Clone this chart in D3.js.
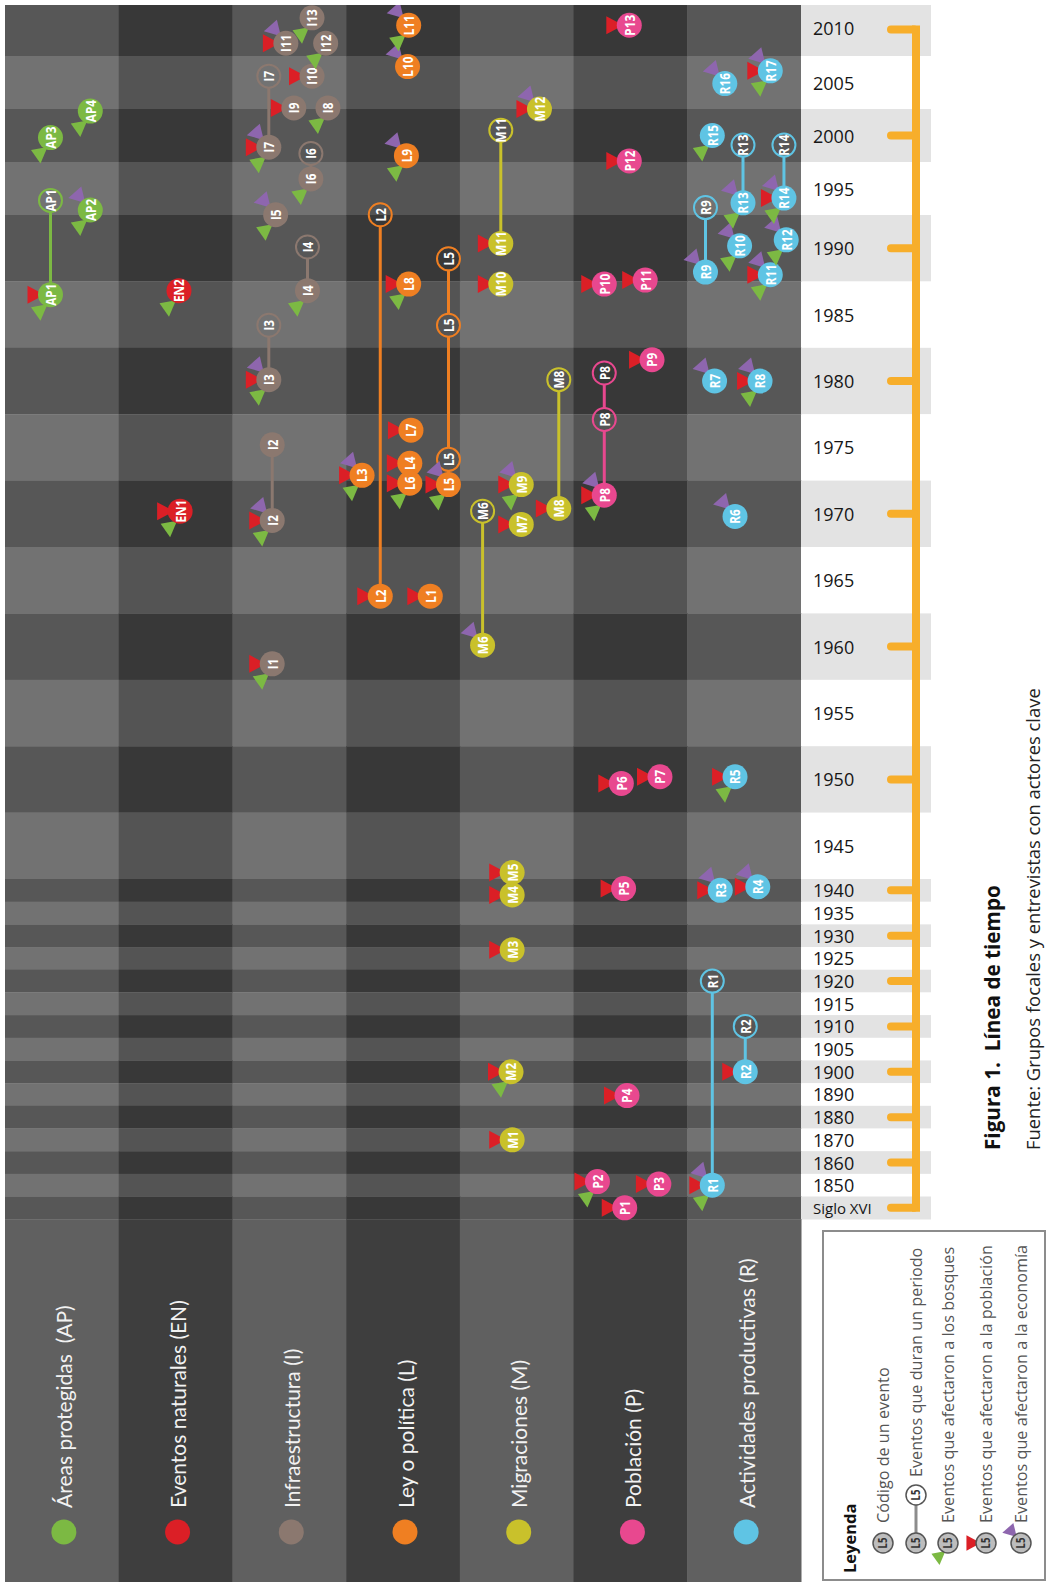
<!DOCTYPE html>
<html><head><meta charset="utf-8">
<script src="https://cdn.jsdelivr.net/npm/d3@7/dist/d3.min.js"></script>
<style>body{margin:0;background:#fff}svg{display:block}</style>
</head><body>
<svg id="c" width="1047" height="1582"></svg>
<script>
// ---------- DATA ----------
const categories = ["Áreas protegidas  (AP)", "Eventos naturales (EN)", "Infraestructura (I)", "Ley o política (L)", "Migraciones (M)", "Población (P)", "Actividades productivas (R)"];
const catCodes = ["AP", "EN", "I", "L", "M", "P", "R"];
const catColors = ["#7cb943", "#db1f26", "#8b786f", "#ef7f22", "#c9c12b", "#e8488f", "#5fc4e4"];

const bandLabels = ["2010","2005","2000","1995","1990","1985","1980","1975","1970","1965","1960","1955","1950","1945","1940","1935","1930","1925","1920","1915","1910","1905","1900","1890","1880","1870","1860","1850","Siglo XVI"];
const bandYears  = [2010,2005,2000,1995,1990,1985,1980,1975,1970,1965,1960,1955,1950,1945,1940,1935,1930,1925,1920,1915,1910,1905,1900,1890,1880,1870,1860,1850,1550];

// events: [code, year, lane (0..1 inside column), impacts: e = economía, p = población, f = bosques]
const eventsAP = [["AP1",1986.5,0.40,"pf"],["AP2",1993.2,0.75,"ef"],["AP3",1999.8,0.40,"f"],["AP4",2002.3,0.75,"f"]];
const eventsEN = [["EN1",1970.2,0.54,"pf"],["EN2",1986.8,0.53,"f"]];
const eventsI  = [["I1",1958.7,0.35,"pf"],["I2",1969.5,0.35,"epf"],["I2",1975.2,0.35,""],["I3",1980.1,0.32,"epf"],["I4",1986.8,0.66,"f"],["I5",1992.8,0.38,"ef"],["I6",1995.9,0.69,"f"],["I7",1998.9,0.32,"epf"],["I8",2002.6,0.84,"f"],["I9",2002.6,0.54,"p"],["I10",2005.6,0.70,"p"],["I12",2008.7,0.82,"f"],["I11",2008.7,0.47,"ep"],["I13",2011.1,0.70,"f"]];
const eventsL  = [["L1",1963.8,0.74,"p"],["L2",1963.8,0.30,"p"],["L7",1976.3,0.57,"p"],["L4",1973.8,0.56,"p"],["L6",1972.3,0.56,"pf"],["L3",1972.9,0.14,"epf"],["L5",1972.2,0.90,"epf"],["L8",1987.3,0.55,"pf"],["L9",1998.1,0.53,"ef"],["L10",2006.5,0.54,"e"],["L11",2010.4,0.55,"ef"]];
const eventsM  = [["M1",1870,0.46,"p"],["M2",1900,0.45,"pf"],["M3",1926.9,0.46,"p"],["M4",1939.0,0.46,"p"],["M5",1942.0,0.46,"p"],["M6",1960.1,0.20,"e"],["M7",1969.2,0.54,"p"],["M8",1970.4,0.87,"p"],["M9",1972.2,0.54,"epf"],["M10",1987.3,0.36,"p"],["M11",1990.4,0.36,"p"],["M12",2002.5,0.70,"ep"]];
const eventsP  = [["P1",1550,0.45,"p"],["P2",1851.6,0.21,"pf"],["P3",1850.5,0.75,"p"],["P4",1889.5,0.47,"p"],["P5",1940.2,0.44,"p"],["P6",1949.7,0.42,"p"],["P7",1950.2,0.76,"p"],["P8",1971.4,0.27,"epf"],["P9",1981.6,0.69,"p"],["P10",1987.3,0.27,"p"],["P11",1987.6,0.63,"p"],["P12",1997.6,0.49,"p"],["P13",2010.4,0.49,"p"]];
const eventsR  = [["R1",1850,0.22,"epf"],["R2",1900,0.51,"p"],["R3",1940,0.29,"ep"],["R4",1940.4,0.62,"ep"],["R5",1950.2,0.42,"pf"],["R6",1969.8,0.42,"e"],["R7",1980,0.24,"e"],["R8",1980,0.64,"epf"],["R9",1988.2,0.16,"e"],["R10",1990.2,0.46,"ef"],["R11",1988.0,0.73,"epf"],["R12",1990.7,0.87,"ef"],["R13",1993.8,0.49,"ef"],["R14",1994.2,0.85,"epf"],["R15",2000,0.22,"f"],["R16",2004.9,0.33,"e"],["R17",2006.1,0.73,"epf"]];
const eventSets = [eventsAP, eventsEN, eventsI, eventsL, eventsM, eventsP, eventsR];

// period lines: [code, category index, lane, years along the line]
const periodLines = [
  ["AP1",0,0.40,[1986.5,1994.0]],
  ["I2",2,0.35,[1969.5,1975.2]],
  ["I3",2,0.32,[1980.1,1984.2]],
  ["I4",2,0.66,[1986.8,1990.1]],
  ["I6",2,0.69,[1995.9,1998.3]],
  ["I7",2,0.32,[1998.9,2005.6]],
  ["L2",3,0.30,[1963.8,1992.8]],
  ["L5",3,0.90,[1972.2,1974.1,1984.2,1989.2]],
  ["M6",4,0.20,[1960.1,1970.2]],
  ["M8",4,0.87,[1970.4,1980.1]],
  ["M11",4,0.36,[1990.4,2000.5]],
  ["P8",5,0.27,[1971.4,1977.1,1980.6]],
  ["R1",6,0.22,[1850,1920]],
  ["R2",6,0.51,[1900,1910]],
  ["R9",6,0.16,[1988.2,1993.4]],
  ["R13",6,0.49,[1993.8,1999.1]],
  ["R14",6,0.85,[1994.2,1999.1]]
];
// open end markers: [code, category index, lane, year]
const openMarks = [
  ["AP1",0,0.40,1994.0],["I3",2,0.32,1984.2],["I4",2,0.66,1990.1],["I6",2,0.69,1998.3],["I7",2,0.32,2005.6],
  ["L2",3,0.30,1992.8],["L5",3,0.90,1974.1],["L5",3,0.90,1984.2],["L5",3,0.90,1989.2],
  ["M6",4,0.20,1970.2],["M8",4,0.87,1980.1],["M11",4,0.36,2000.5],
  ["P8",5,0.27,1977.1],["P8",5,0.27,1980.6],
  ["R1",6,0.22,1920],["R2",6,0.51,1910],["R9",6,0.16,1993.4],["R13",6,0.49,1999.1],["R14",6,0.85,1999.1]
];

const legendItems = ["Código de un evento","Eventos que duran un periodo","Eventos que afectaron a los bosques","Eventos que afectaron a la población","Eventos que afectaron a la economía"];
const legendImpacts = ["","","f","p","e"];
const captionTitle = "Figura 1.  Línea de tiempo";
const captionSource = "Fuente: Grupos focales y entrevistas con actores clave";

// ---------- LAYOUT ----------
const svg = d3.select("#c");
const impactColor = {f:"#7cb943", p:"#db1f26", e:"#8e66ae"};
const triPts = {
  f: [[-19.5,12.5],[-3,9.5],[-10,26]],
  p: [[-23,-9],[-23,9],[-6,0]],
  e: [[-22,-12],[-9,-23.5],[-5,-7]]
};
const R = 12.5;
const topY = 3;
const bandH = bandLabels.map((d,i) => i < 4 ? 53 : (i < 14 ? 66.4 : 22.68));
let acc = topY;
const bandTop = bandH.map(h => { const t = acc; acc += h; return t; });
const plotBottom = acc;
const centers = bandTop.map((t,i) => t + bandH[i]/2);

const y = d3.scaleLinear().domain(bandYears).range(centers);
const x = d3.scaleBand().domain(catCodes).range([5, 801]).padding(0);
const lane = d3.scaleLinear().domain([0,1]).range([0, x.bandwidth()]);
const cellColor = (ci, ri) => (ci % 2 === 0) ? (ri % 2 === 0 ? "#575757" : "#727272") : (ri % 2 === 0 ? "#383838" : "#545454");

// grid cells
const gCells = svg.append("g");
bandLabels.forEach((lab, ri) => {
  catCodes.forEach((c, ci) => {
    const y0 = Math.max(5, bandTop[ri]);
    gCells.append("rect").attr("x", x(c)).attr("y", y0)
      .attr("width", x.bandwidth() + 0.5).attr("height", bandTop[ri] + bandH[ri] - y0 + 0.3)
      .attr("fill", cellColor(ci, ri));
  });
  const y0 = Math.max(5, bandTop[ri]);
  gCells.append("rect").attr("x", 801).attr("y", y0).attr("width", 130)
    .attr("height", bandTop[ri] + bandH[ri] - y0 + 0.3)
    .attr("fill", ri % 2 === 0 ? "#e3e3e3" : "#ffffff");
});

// year labels
svg.append("g").selectAll("text").data(bandLabels).join("text")
  .attr("x", 813).attr("y", (d,i) => centers[i] - (i === 0 ? 2 : 0))
  .attr("dominant-baseline", "central")
  .attr("font-family", "'Open Sans', sans-serif")
  .attr("font-size", d => d === "Siglo XVI" ? 15 : 18)
  .attr("fill", "#161616")
  .text(d => d);

// orange timeline
const orange = "#f7ae2b";
const tickIdx = bandLabels.map((d,i) => i).filter(i => i % 2 === 0);
const tl = svg.append("g");
tl.append("line").attr("x1", 916).attr("x2", 916)
  .attr("y1", centers[0] - 4).attr("y2", centers[centers.length-1] + 4)
  .attr("stroke", orange).attr("stroke-width", 8);
tl.selectAll("line.t").data(tickIdx).join("line").attr("class","t")
  .attr("x1", 891).attr("x2", 914)
  .attr("y1", i => centers[i]).attr("y2", i => centers[i])
  .attr("stroke", orange).attr("stroke-width", 8).attr("stroke-linecap", "round");

// category label area
const gCat = svg.append("g");
catCodes.forEach((c, ci) => {
  gCat.append("rect").attr("x", x(c)).attr("y", plotBottom).attr("width", x.bandwidth() + 0.5)
    .attr("height", 1582 - plotBottom).attr("fill", ci % 2 === 0 ? "#606060" : "#3e3e3e");
  const cx = x(c) + x.bandwidth()/2 + 2;
  gCat.append("circle").attr("cx", cx).attr("cy", 1532).attr("r", 12.5).attr("fill", catColors[ci]);
  gCat.append("text").attr("transform", `translate(${cx},1508) rotate(-90)`)
    .attr("dominant-baseline", "central")
    .attr("font-family", "Lato, 'Open Sans', sans-serif").attr("font-size", 21)
    .attr("fill", "#f2f2f2").style("white-space", "pre")
    .text(categories[ci]);
});

// helpers
function triPath(k, s = 1) {
  return "M" + triPts[k].map(p => (p[0]*s) + "," + (p[1]*s)).join("L") + "Z";
}
function codeText(g, code, color, size) {
  g.append("text").attr("transform", "rotate(-90) scale(0.84,1)")
    .attr("text-anchor", "middle").attr("dominant-baseline", "central")
    .attr("font-family", "'Open Sans', sans-serif").attr("font-weight", 700)
    .attr("font-size", size).attr("fill", color).text(code);
}

// period lines
const gLines = svg.append("g");
periodLines.forEach(([code, ci, ln, yrs]) => {
  const cx = x(catCodes[ci]) + lane(ln);
  for (let k = 0; k < yrs.length - 1; k++) {
    const ya = y(yrs[k]), yb = y(yrs[k+1]);
    gLines.append("line").attr("x1", cx).attr("x2", cx)
      .attr("y1", ya - R + 1).attr("y2", yb + R - 1)
      .attr("stroke", catColors[ci]).attr("stroke-width", 3);
  }
});

// open markers
const gOpen = svg.append("g");
openMarks.forEach(([code, ci, ln, yr]) => {
  const g = gOpen.append("g").attr("transform", `translate(${x(catCodes[ci]) + lane(ln)},${y(yr)})`);
  g.append("circle").attr("r", R - 1).attr("fill", "none").attr("stroke", catColors[ci]).attr("stroke-width", 2);
  codeText(g, code, "#ffffff", 14);
});

// events
const gEv = svg.append("g");
eventSets.forEach((arr, ci) => {
  arr.forEach(([code, yr, ln, imp]) => {
    const g = gEv.append("g").attr("transform", `translate(${x(catCodes[ci]) + lane(ln)},${y(yr)})`);
    ["e","p","f"].forEach(k => {
      if (imp.includes(k)) g.append("path").attr("d", triPath(k)).attr("fill", impactColor[k]);
    });
    g.append("circle").attr("r", R).attr("fill", catColors[ci]);
    codeText(g, code, "#ffffff", 14);
  });
});

// white strip on top
svg.append("rect").attr("x", 0).attr("y", 0).attr("width", 1047).attr("height", 5).attr("fill", "#fff");

// legend
const gL = svg.append("g");
gL.append("rect").attr("x", 823).attr("y", 1231).attr("width", 222).attr("height", 349)
  .attr("fill", "#fff").attr("stroke", "#8c8c8c").attr("stroke-width", 2);
gL.append("text").attr("transform", "translate(849,1573) rotate(-90)")
  .attr("dominant-baseline", "central").attr("font-family", "'Open Sans', sans-serif")
  .attr("font-weight", 700).attr("font-size", 16.5).attr("fill", "#111").text("Leyenda");
const legX = [883, 916, 948, 986, 1021];
legendItems.forEach((txt, i) => {
  const lx = legX[i];
  if (i === 1) {
    gL.append("line").attr("x1", lx).attr("x2", lx).attr("y1", 1543 - 10).attr("y2", 1495 + 10)
      .attr("stroke", "#8c8c8c").attr("stroke-width", 3);
    const go = gL.append("g").attr("transform", `translate(${lx},1495)`);
    go.append("circle").attr("r", 10).attr("fill", "#fff").attr("stroke", "#555").attr("stroke-width", 1.5);
    codeText(go, "L5", "#333", 11.5);
  }
  const g = gL.append("g").attr("transform", `translate(${lx},1543)`);
  if (legendImpacts[i]) g.append("path").attr("d", triPath(legendImpacts[i], 0.85)).attr("fill", impactColor[legendImpacts[i]]);
  g.append("circle").attr("r", 10).attr("fill", "#bdbdbd").attr("stroke", "#555").attr("stroke-width", 1.5);
  codeText(g, "L5", "#333", 11.5);
  gL.append("text").attr("transform", `translate(${lx},${i === 1 ? 1477 : 1523}) rotate(-90)`)
    .attr("dominant-baseline", "central").attr("font-family", "'Open Sans', sans-serif")
    .attr("font-size", 16.2).attr("fill", "#555").text(txt);
});

// caption
svg.append("text").attr("transform", "translate(992,1150) rotate(-90)")
  .attr("dominant-baseline", "central").attr("font-family", "'Open Sans', sans-serif")
  .attr("font-weight", 700).attr("font-size", 20.7).attr("fill", "#111")
  .style("white-space", "pre").text(captionTitle);
svg.append("text").attr("transform", "translate(1032,1150) rotate(-90)")
  .attr("dominant-baseline", "central").attr("font-family", "'Open Sans', sans-serif")
  .attr("font-size", 18.4).attr("fill", "#222").text(captionSource);
</script>
</body></html>
